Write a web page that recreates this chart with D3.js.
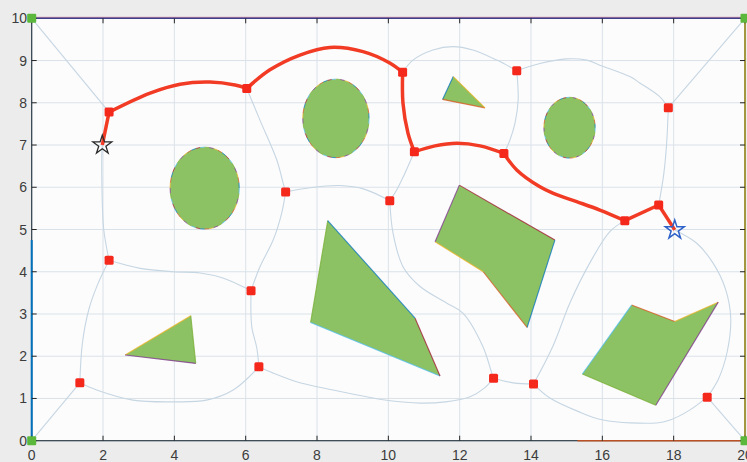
<!DOCTYPE html>
<html>
<head>
<meta charset="utf-8">
<script src="https://cdn.jsdelivr.net/npm/d3@7"></script>
<style>
  body { margin: 0; background: #ececec; }
  svg { display: block; font-family: "Liberation Sans", Arial, sans-serif; }
</style>
</head>
<body>
<svg id="svg"></svg>
<script>
// axis ticks
var xTicks = [0, 2, 4, 6, 8, 10, 12, 14, 16, 18, 20];
var yTicks = [0, 1, 2, 3, 4, 5, 6, 7, 8, 9, 10];

// round obstacles
var circleX = [4.85, 8.53, 15.08];
var circleY = [5.98, 7.63, 7.41];
var circleR = [0.97, 0.93, 0.72];

// polygon obstacles
var polys = [
  [[11.82, 8.62], [11.52, 8.08], [12.71, 7.88]],
  [[4.46, 2.96], [2.62, 2.03], [4.60, 1.83]],
  [[8.30, 5.21], [7.82, 2.80], [11.45, 1.53], [10.75, 2.90]],
  [[11.99, 6.05], [14.67, 4.75], [13.89, 2.68], [12.66, 4.00], [11.31, 4.71]],
  [[16.82, 3.21], [18.03, 2.82], [19.25, 3.28], [17.50, 0.84], [15.44, 1.58]]
];

// roadmap edges
var edges = [
  [[0, 10], [2.17, 7.78]],
  [[2.17, 7.78], [2.05, 7.3], [1.98, 7.0], [1.97, 6.0], [2.02, 5.0], [2.17, 4.27]],
  [[2.17, 4.27], [3.04, 4.08], [3.97, 4.0], [4.72, 3.97], [5.36, 3.85], [6.15, 3.55]],
  [[2.17, 4.27], [1.85, 3.7], [1.6, 3.1], [1.42, 2.3], [1.35, 1.37]],
  [[0, 0], [1.35, 1.37]],
  [[1.35, 1.37], [1.82, 1.2], [2.84, 0.96], [4.0, 0.92], [4.9, 0.96], [5.65, 1.2], [6.37, 1.75]],
  [[6.37, 1.75], [6.31, 2.2], [6.17, 2.7], [6.15, 3.55]],
  [[6.15, 3.55], [6.4, 4.12], [6.77, 4.75], [7.01, 5.39], [7.12, 5.89]],
  [[7.12, 5.89], [7.05, 6.1], [6.87, 6.65], [6.4, 7.59], [6.03, 8.34]],
  [[7.12, 5.89], [7.8, 5.99], [8.64, 6.04], [9.34, 5.95], [10.04, 5.68]],
  [[10.04, 5.68], [10.23, 5.93], [10.42, 6.25], [10.73, 6.84]],
  [[10.04, 5.68], [10.13, 4.92], [10.41, 4.12], [10.89, 3.65], [11.63, 3.26], [12.09, 3.02], [12.65, 2.23], [12.9, 1.6], [12.95, 1.48]],
  [[6.37, 1.75], [6.77, 1.6], [7.52, 1.37], [8.45, 1.2], [9.39, 1.04], [10.0, 0.95], [10.9, 0.89], [11.6, 0.92], [12.29, 1.04], [12.7, 1.25], [12.95, 1.48]],
  [[12.95, 1.48], [13.5, 1.37], [14.07, 1.34]],
  [[14.07, 1.34], [14.61, 2.23], [15.09, 3.26], [15.65, 4.21], [16.21, 4.95], [16.63, 5.21]],
  [[14.07, 1.34], [14.53, 1.01], [15.3, 0.7], [16.02, 0.49], [17.52, 0.42], [17.9, 0.49], [18.46, 0.73], [18.94, 1.03]],
  [[18.94, 1.03], [20, 0]],
  [[18.03, 4.99], [18.64, 4.68], [19.1, 4.21], [19.45, 3.6], [19.6, 2.9], [19.5, 2.1], [19.25, 1.45], [18.94, 1.03]],
  [[17.58, 5.58], [17.72, 6.3], [17.8, 7.0], [17.85, 7.88]],
  [[17.85, 7.88], [20, 10]],
  [[17.85, 7.88], [17.6, 8.15], [17.05, 8.47], [16.77, 8.62], [15.93, 8.89], [15.56, 9.01], [15.0, 9.04], [14.25, 8.93], [13.6, 8.76]],
  [[13.6, 8.76], [13.64, 8.07], [13.55, 7.51], [13.41, 7.12], [13.24, 6.80]],
  [[10.40, 8.72], [10.69, 9.01], [11.25, 9.25], [11.81, 9.33], [12.37, 9.25], [13.04, 9.01], [13.6, 8.76]]
];

// roadmap nodes
var nodeX = [2.17, 6.03, 10.40, 10.73, 13.24, 13.6, 17.85, 16.63, 17.58, 7.12, 10.04, 2.17, 6.15, 6.37, 1.35, 12.95, 14.07, 18.94];
var nodeY = [7.78, 8.34, 8.72, 6.84, 6.80, 8.76, 7.88, 5.21, 5.58, 5.89, 5.68, 4.27, 3.55, 1.75, 1.37, 1.48, 1.34, 1.03];

// corners
var cornerX = [0, 0, 20, 20];
var cornerY = [0, 10, 0, 10];

// shortest path
var pathX = [1.98, 2.17, 3.32, 4.16, 5.0, 5.7, 6.03, 6.68, 7.52, 8.36, 9.29, 10.04, 10.40, 10.41, 10.55, 10.73, 11.31, 11.92, 12.57, 13.24, 13.6, 14.25, 14.61, 15.28, 15.93, 16.63, 17.58, 18.03];
var pathY = [7.0, 7.78, 8.23, 8.44, 8.49, 8.42, 8.34, 8.78, 9.13, 9.31, 9.21, 8.94, 8.72, 7.99, 7.28, 6.84, 6.98, 7.04, 6.98, 6.80, 6.41, 6.01, 5.86, 5.66, 5.46, 5.21, 5.58, 4.99];
var pathBreaks = [1, 6, 12, 15, 19, 25, 26];

var startPt = [1.98, 7.0];
var goalPt = [18.03, 4.99];

var width = 747, height = 462;
var edgeColors = ["#0072BD", "#D95319", "#EDB120", "#7E2F8E", "#77AC30", "#4DBEEE", "#A2142F"];

var svg = d3.select("#svg").attr("width", width).attr("height", height);

var x = d3.scaleLinear().domain([0, 20]).range([31.7, 745]);
var y = d3.scaleLinear().domain([0, 10]).range([440.7, 18.3]);

svg.append("rect").attr("width", width).attr("height", height).attr("fill", "#ececec");
svg.append("rect")
  .attr("x", x(0)).attr("y", y(10))
  .attr("width", x(20) - x(0)).attr("height", y(0) - y(10))
  .attr("fill", "#fcfcfd");

// grid
svg.append("g").selectAll("line").data(xTicks).enter().append("line")
  .attr("x1", d => x(d)).attr("x2", d => x(d))
  .attr("y1", y(0)).attr("y2", y(10))
  .attr("stroke", "#dae2e9").attr("stroke-width", 1);
svg.append("g").selectAll("line").data(yTicks).enter().append("line")
  .attr("y1", d => y(d)).attr("y2", d => y(d))
  .attr("x1", x(0)).attr("x2", x(20))
  .attr("stroke", "#dae2e9").attr("stroke-width", 1);

var line = d3.line().x(d => x(d[0])).y(d => y(d[1]));
var curve = d3.line().x(d => x(d[0])).y(d => y(d[1])).curve(d3.curveCatmullRom.alpha(0.5));

// roadmap
svg.append("g").selectAll("path").data(edges).enter().append("path")
  .attr("d", curve)
  .attr("fill", "none")
  .attr("stroke", "#c6d6e2")
  .attr("stroke-width", 1.1);

// circles
var cg = svg.append("g");
for (var i = 0; i < circleX.length; i++) {
  var pts = [];
  for (var k = 0; k <= 48; k++) {
    var a = k / 48 * 2 * Math.PI;
    pts.push([circleX[i] + circleR[i] * Math.cos(a), circleY[i] + circleR[i] * Math.sin(a)]);
  }
  cg.append("path").attr("d", line(pts) + "Z").attr("fill", "#8cc264");
  for (var k = 0; k < 48; k++) {
    cg.append("path").attr("d", line([pts[k], pts[k + 1]]))
      .attr("stroke", edgeColors[k % 7]).attr("stroke-width", 1).attr("fill", "none")
      .attr("opacity", 0.7);
  }
}

// polygons
var pg = svg.append("g");
polys.forEach(function(p, j) {
  pg.append("path").attr("d", line(p) + "Z").attr("fill", "#8cc264");
  for (var k = 0; k < p.length; k++) {
    pg.append("path").attr("d", line([p[k], p[(k + 1) % p.length]]))
      .attr("stroke", edgeColors[(k + j * 2) % 7]).attr("stroke-width", 1.1)
      .attr("fill", "none").attr("opacity", 0.75);
  }
});

// shortest path
var pts = pathX.map((d, i) => [d, pathY[i]]);
var segs = [], s = 0;
pathBreaks.concat([pts.length - 1]).forEach(function(b) {
  segs.push(pts.slice(s, b + 1));
  s = b;
});
svg.append("g").selectAll("path").data(segs).enter().append("path")
  .attr("d", curve)
  .attr("fill", "none")
  .attr("stroke", "#f23b24")
  .attr("stroke-width", 3.5)
  .attr("stroke-linejoin", "round");

// nodes
svg.append("g").selectAll("rect").data(nodeX).enter().append("rect")
  .attr("x", (d, i) => x(d) - 4.5).attr("y", (d, i) => y(nodeY[i]) - 4.5)
  .attr("width", 9).attr("height", 9).attr("rx", 1.5)
  .attr("fill", "#f5281c");

// stars
var star = d3.symbol().type(d3.symbolStar).size(110);
svg.append("path").attr("d", star)
  .attr("transform", "translate(" + x(startPt[0]) + "," + y(startPt[1]) + ")")
  .attr("fill", "none").attr("stroke", "#2b2b2b").attr("stroke-width", 1.3);
svg.append("path").attr("d", star)
  .attr("transform", "translate(" + x(goalPt[0]) + "," + y(goalPt[1]) + ")")
  .attr("fill", "none").attr("stroke", "#2f62c8").attr("stroke-width", 1.5);

// axes box
var ax = svg.append("g");
ax.append("rect")
  .attr("x", x(0)).attr("y", y(10))
  .attr("width", x(20) - x(0)).attr("height", y(0) - y(10))
  .attr("fill", "none").attr("stroke", "#2e3c48").attr("stroke-width", 1.2);
ax.append("line").attr("x1", x(0)).attr("x2", x(0)).attr("y1", y(0)).attr("y2", y(4.75))
  .attr("stroke", "#0072BD").attr("stroke-width", 2);
ax.append("line").attr("x1", x(15.3)).attr("x2", x(20)).attr("y1", y(0)).attr("y2", y(0))
  .attr("stroke", "#D95319").attr("stroke-width", 1.6).attr("opacity", 0.8);
ax.append("line").attr("x1", x(20)).attr("x2", x(20)).attr("y1", y(0)).attr("y2", y(10))
  .attr("stroke", "#a89a3a").attr("stroke-width", 1.8);
ax.append("line").attr("x1", x(0)).attr("x2", x(20)).attr("y1", y(10) - 1).attr("y2", y(10) - 1)
  .attr("stroke", "#d98aa8").attr("stroke-width", 1);
ax.append("line").attr("x1", x(0)).attr("x2", x(20)).attr("y1", y(10)).attr("y2", y(10))
  .attr("stroke", "#3d3f8a").attr("stroke-width", 1.4);

// ticks inward
xTicks.forEach(function(t) {
  ax.append("line").attr("x1", x(t)).attr("x2", x(t)).attr("y1", y(0)).attr("y2", y(0) - 5).attr("stroke", "#262626");
  ax.append("line").attr("x1", x(t)).attr("x2", x(t)).attr("y1", y(10)).attr("y2", y(10) + 5).attr("stroke", "#262626");
});
yTicks.forEach(function(t) {
  ax.append("line").attr("y1", y(t)).attr("y2", y(t)).attr("x1", x(0)).attr("x2", x(0) + 5).attr("stroke", "#262626");
  ax.append("line").attr("y1", y(t)).attr("y2", y(t)).attr("x1", x(20)).attr("x2", x(20) - 5).attr("stroke", "#262626");
});

// corner squares
svg.append("g").selectAll("rect").data(cornerX).enter().append("rect")
  .attr("x", (d, i) => x(d) - 4.5).attr("y", (d, i) => y(cornerY[i]) - 4.5)
  .attr("width", 9).attr("height", 9).attr("rx", 1)
  .attr("fill", "#5cb83c");

// tick labels
svg.append("g").selectAll("text").data(xTicks).enter().append("text")
  .attr("x", d => x(d)).attr("y", 460)
  .attr("text-anchor", "middle")
  .attr("font-size", 14).attr("fill", "#3c3c3c")
  .text(d => d);
svg.append("g").selectAll("text").data(yTicks).enter().append("text")
  .attr("x", 27).attr("y", d => y(d) + 5)
  .attr("text-anchor", "end")
  .attr("font-size", 14).attr("fill", "#3c3c3c")
  .attr("fill", "#3c3c3c")
  .text(d => d);
</script>
</body>
</html>
